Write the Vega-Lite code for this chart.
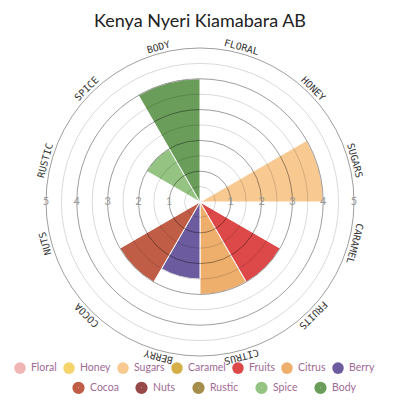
{
  "$schema": "https://vega.github.io/schema/vega-lite/v6.json",
  "width": 400,
  "height": 334,
  "autosize": "none",
  "padding": {"top": 35, "left": 0, "right": 0, "bottom": 31},
  "title": {"text": "Kenya Nyeri Kiamabara AB", "font": "Lato", "fontSize": 18, "fontWeight": "normal", "color": "#222222", "anchor": "middle", "offset": 4},
  "config": {
    "view": {"stroke": null},
    "legend": {"symbolType": "circle", "symbolSize": 133, "labelFont": "Lato", "labelFontSize": 10.5, "labelColor": "#a06a95", "labelOffset": 5, "columnPadding": 6, "rowPadding": 0, "padding": 0, "symbolStrokeWidth": 0, "title": null}
  },
  "data": {"values": [
    {"category": "Floral", "value": 0},
    {"category": "Honey", "value": 0},
    {"category": "Sugars", "value": 4},
    {"category": "Caramel", "value": 0},
    {"category": "Fruits", "value": 3},
    {"category": "Citrus", "value": 3},
    {"category": "Berry", "value": 2.5},
    {"category": "Cocoa", "value": 3},
    {"category": "Nuts", "value": 0},
    {"category": "Rustic", "value": 0},
    {"category": "Spice", "value": 2},
    {"category": "Body", "value": 4}
  ]},
  "layer": [
    {
      "transform": [{"window": [{"op": "row_number", "as": "idx"}]}, {"calculate": "datum.idx - 1", "as": "start"}],
      "mark": {"type": "arc", "stroke": "#ffffff", "strokeWidth": 1},
      "encoding": {
        "theta": {"field": "start", "type": "quantitative", "scale": {"domain": [0, 12], "range": [0, 6.2832]}},
        "theta2": {"field": "idx"},
        "radius": {"field": "value", "type": "quantitative", "stack": null, "scale": {"type": "linear", "domain": [0, 5], "range": [0, 154]}},
        "color": {"field": "category", "type": "nominal",
          "scale": {"domain": ["Floral","Honey","Sugars","Caramel","Fruits","Citrus","Berry","Cocoa","Nuts","Rustic","Spice","Body"],
                    "range": ["#f2b5b5","#f5d46c","#f8c991","#d4ae46","#dd4848","#eeae6c","#6c5b9e","#c05d47","#974848","#a48c4a","#94c382","#6b9d5a"]},
          "legend": {"values": ["Floral","Honey","Sugars","Caramel","Fruits","Citrus","Berry"], "orient": "none", "legendX": 14, "legendY": 327, "columns": 7, "direction": "horizontal"}}
      }
    },
    {
      "data": {"values": [{"r": 0.5}, {"r": 1.5}, {"r": 2.5}, {"r": 3.5}, {"r": 4.5}]},
      "mark": {"type": "arc", "filled": false, "stroke": "#000000", "strokeOpacity": 0.15, "strokeWidth": 1, "theta": 0, "theta2": 6.2832},
      "encoding": {"radius": {"field": "r", "type": "quantitative", "stack": null}}
    },
    {
      "data": {"values": [{"r": 1}, {"r": 2}, {"r": 3}, {"r": 4}, {"r": 5}]},
      "mark": {"type": "arc", "filled": false, "stroke": "#000000", "strokeOpacity": 0.38, "strokeWidth": 1, "theta": 0, "theta2": 6.2832},
      "encoding": {"radius": {"field": "r", "type": "quantitative", "stack": null}}
    },
    {
      "data": {"values": [{"v": 1}, {"v": 2}, {"v": 3}, {"v": 4}, {"v": 5}]},
      "mark": {"type": "text", "theta": 1.5708, "font": "Lato", "fontSize": 11, "color": "#999999", "baseline": "middle", "align": "center"},
      "encoding": {"radius": {"field": "v", "type": "quantitative", "stack": null}, "text": {"field": "v", "type": "quantitative"}}
    },
    {
      "data": {"values": [{"v": 1}, {"v": 2}, {"v": 3}, {"v": 4}, {"v": 5}]},
      "mark": {"type": "text", "theta": 4.7124, "font": "Lato", "fontSize": 11, "color": "#999999", "baseline": "middle", "align": "center"},
      "encoding": {"radius": {"field": "v", "type": "quantitative", "stack": null}, "text": {"field": "v", "type": "quantitative"}}
    },
    {
      "transform": [{"window": [{"op": "row_number", "as": "idx"}]}, {"calculate": "datum.idx - 0.5", "as": "mid"}, {"calculate": "upper(datum.category)", "as": "label"}],
      "mark": {"type": "text", "radius": 160, "font": "DejaVu Sans Mono", "fontSize": 9.8, "color": "#333333", "baseline": "middle", "align": "center"},
      "encoding": {
        "theta": {"field": "mid", "type": "quantitative", "stack": null},
        "text": {"field": "label", "type": "nominal"},
        "angle": {"field": "idx", "type": "quantitative", "scale": {"domain": [1, 12], "range": [15, 345]}}
      }
    },
    {
      "transform": [{"filter": {"field": "category", "oneOf": ["Cocoa","Nuts","Rustic","Spice","Body"]}}],
      "mark": {"type": "arc", "radius": 0, "filled": false, "strokeWidth": 6.5},
      "encoding": {
        "stroke": {"field": "category", "type": "nominal",
          "scale": {"domain": ["Cocoa","Nuts","Rustic","Spice","Body"], "range": ["#c05d47","#974848","#a48c4a","#94c382","#6b9d5a"]},
          "legend": {"orient": "none", "legendX": 72, "legendY": 346, "columns": 5, "direction": "horizontal", "symbolSize": 33, "symbolStrokeWidth": 6.5}}
      }
    }
  ]
}
